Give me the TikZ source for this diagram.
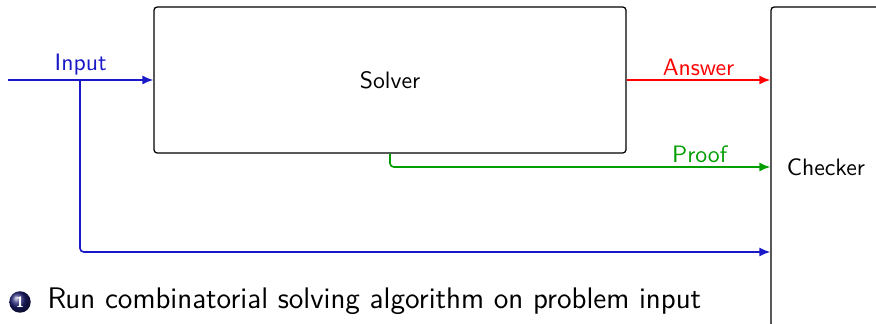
\documentclass[tikz,border=0pt]{standalone}
\usetikzlibrary{arrows.meta,calc}
\definecolor{inblue}{rgb}{0.1,0.1,0.78}
\definecolor{prgreen}{rgb}{0,0.62,0}
\definecolor{ansred}{rgb}{1,0,0}
\definecolor{ballblue}{rgb}{0.12,0.12,0.45}
\begin{document}
\begin{tikzpicture}[x=0.4pt,y=-0.4pt,
  every node/.style={font=\sffamily\fontsize{9.5}{11}\selectfont},
  box/.style={draw=black,line width=0.5pt,rounded corners=1.3pt,inner sep=0pt},
  conn/.style={line width=0.65pt,-{Latex[length=4.4pt,width=3.6pt]},rounded corners=1.5pt},
  lbl/.style={above,inner sep=1.5pt}]
\useasboundingbox (0,0) rectangle (876,324);
\node[box,minimum width=188.8pt,minimum height=58.4pt] (solver) at (390,80) {Solver};
\node[box,minimum width=44pt,minimum height=128pt] (checker) at (826,167) {Checker};
\coordinate (in) at (8,80);
\coordinate (br) at (80,80);
\coordinate (lvl) at (0,252);
\draw[conn,inblue] (in) -- node[lbl,text=inblue]{Input} (solver.west);
\draw[conn,inblue] (br) |- (checker.west |- lvl);
\draw[conn,ansred] (solver.east) -- node[lbl,text=ansred]{Answer} (solver.east -| checker.west);
\draw[conn,prgreen] (solver.south) |- node[lbl,pos=0.907,text=prgreen]{Proof} (checker.west);
\shade[ball color=ballblue] (20,302) circle (4.3pt);
\node[font=\sffamily\bfseries\fontsize{6}{7}\selectfont,text=white,inner sep=0pt] (num) at (20,302) {1};
\node[anchor=base west,font=\sffamily\fontsize{11.9}{14}\selectfont,inner sep=0pt] (txt) at (47,309) {Run combinatorial solving algorithm on problem input};
\end{tikzpicture}
\end{document}
